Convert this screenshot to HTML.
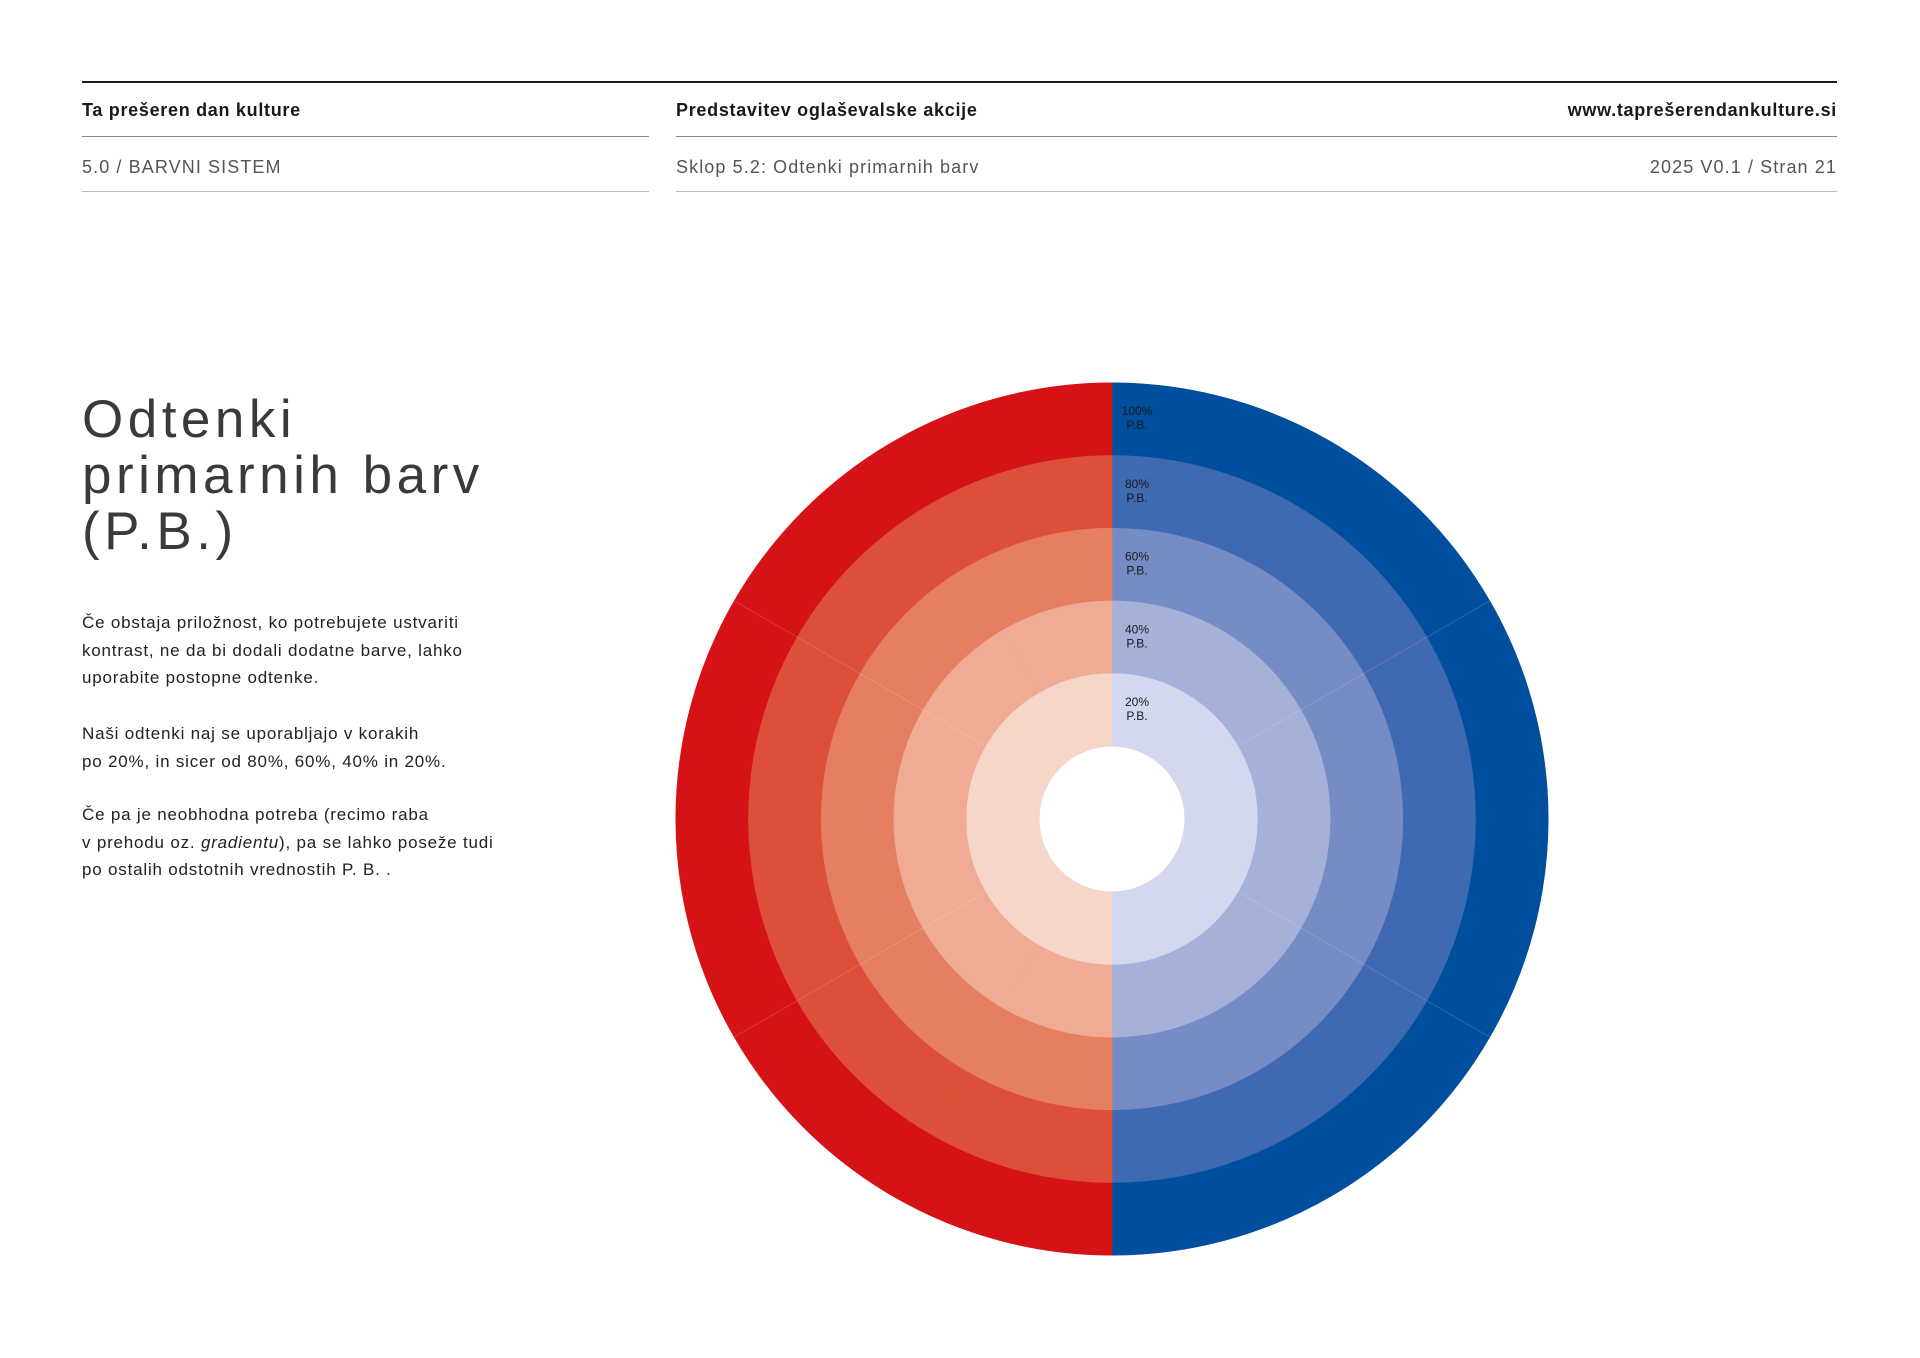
<!DOCTYPE html>
<html><head><meta charset="utf-8">
<style>
html,body{margin:0;padding:0;background:#fff;}
body{width:1920px;height:1358px;position:relative;overflow:hidden;font-family:"Liberation Sans",sans-serif;color:#1a1a1a;}
.abs{position:absolute;white-space:nowrap;}
.line{position:absolute;height:0;}
.h1{font-size:18px;font-weight:bold;color:#1a1a1a;letter-spacing:0.7px;}
.h2{font-size:18px;color:#555;letter-spacing:1.1px;}
.title{position:absolute;left:82px;top:392px;font-size:53px;line-height:56px;font-weight:300;color:#3a3a3a;letter-spacing:4.5px;white-space:nowrap;}
.para{position:absolute;left:82px;font-size:17px;line-height:27.5px;color:#222;white-space:nowrap;letter-spacing:0.8px;}
</style></head><body>
<div class="line" style="left:82px;top:81px;width:1755px;border-top:2.5px solid #1a1a1a;"></div>
<div class="abs h1" style="left:82px;top:100px;">Ta prešeren dan kulture</div>
<div class="abs h1" style="left:676px;top:100px;">Predstavitev oglaševalske akcije</div>
<div class="abs h1" style="right:83px;top:100px;">www.taprešerendankulture.si</div>
<div class="line" style="left:82px;top:136px;width:567px;border-top:1px solid #888;"></div>
<div class="line" style="left:676px;top:136px;width:1161px;border-top:1px solid #888;"></div>
<div class="abs h2" style="left:82px;top:157px;">5.0 / BARVNI SISTEM</div>
<div class="abs h2" style="left:676px;top:157px;">Sklop 5.2: Odtenki primarnih barv</div>
<div class="abs h2" style="right:83px;top:157px;">2025 V0.1 / Stran 21</div>
<div class="line" style="left:82px;top:191px;width:567px;border-top:1.5px solid #bbb;"></div>
<div class="line" style="left:676px;top:191px;width:1161px;border-top:1.5px solid #bbb;"></div>

<div class="title">Odtenki<br>primarnih barv<br>(P.B.)</div>
<div class="para" style="top:609px;">Če obstaja priložnost, ko potrebujete ustvariti<br>kontrast, ne da bi dodali dodatne barve, lahko<br>uporabite postopne odtenke.</div>
<div class="para" style="top:720px;">Naši odtenki naj se uporabljajo v korakih<br>po 20%, in sicer od 80%, 60%, 40% in 20%.</div>
<div class="para" style="top:801px;">Če pa je neobhodna potreba (recimo raba<br>v prehodu oz. <i>gradientu</i>), pa se lahko poseže tudi<br>po ostalih odstotnih vrednostih P. B. .</div>

<svg id="chart" width="1920" height="1358" style="position:absolute;left:0;top:0;" xmlns="http://www.w3.org/2000/svg"></svg>
<script>
const levels = [100, 80, 60, 40, 20];
const redShades = ["#d51317", "#de4f39", "#e67f62", "#efab94", "#f7d6ca"];
const blueShades = ["#004f9e", "#3f69b1", "#758cc5", "#a6b1da", "#d3d8ee"];
const labels = ["100%", "80%", "60%", "40%", "20%"];
const segmentCount = 12;
const dividerSegments = [2, 4, 8, 10];

const cx = 1112, cy = 819, ringW = 72.7;
const NS = "http://www.w3.org/2000/svg";
const svg = document.getElementById('chart');
function radius(level){ return ringW * (1 + level / 20); }
function pt(r, a){ return [cx + r * Math.sin(a), cy - r * Math.cos(a)]; }
function sector(r0, r1, a0, a1){
  const p1 = pt(r1, a0), p2 = pt(r1, a1), p3 = pt(r0, a1), p4 = pt(r0, a0);
  return `M${p1[0]},${p1[1]} A${r1},${r1} 0 0 1 ${p2[0]},${p2[1]} L${p3[0]},${p3[1]} A${r0},${r0} 0 0 0 ${p4[0]},${p4[1]} Z`;
}
const step = 2 * Math.PI / segmentCount;
for (let s = 0; s < segmentCount; s++) {
  const a0 = s * step, a1 = (s + 1) * step;
  const isBlue = s < segmentCount / 2;
  levels.forEach((lv, i) => {
    const p = document.createElementNS(NS, 'path');
    p.setAttribute('d', sector(radius(lv) - ringW, radius(lv), a0, a1));
    p.setAttribute('fill', isBlue ? blueShades[i] : redShades[i]);
    p.setAttribute('stroke', isBlue ? blueShades[i] : redShades[i]);
    p.setAttribute('stroke-width', '0.6');
    
    
    svg.appendChild(p);
  });
}
dividerSegments.forEach(s => {
  const a = s * step;
  const p0 = pt(radius(levels[levels.length-1]) - ringW, a), p1 = pt(radius(levels[0]), a);
  const l = document.createElementNS(NS, 'line');
  l.setAttribute('x1', p0[0]); l.setAttribute('y1', p0[1]);
  l.setAttribute('x2', p1[0]); l.setAttribute('y2', p1[1]);
  l.setAttribute('stroke', 'rgba(255,255,255,0.15)');
  l.setAttribute('stroke-width', '1');
  
  
  svg.appendChild(l);
});
levels.forEach((lv, i) => {
  const yMid = cy - radius(lv) + ringW / 2;
  const t = document.createElementNS(NS, 'text');
  t.setAttribute('x', cx + 25);
  t.setAttribute('y', yMid - 4);
  t.setAttribute('text-anchor', 'middle');
  t.setAttribute('font-family', 'Liberation Sans, sans-serif');
  t.setAttribute('font-size', '12');
  t.setAttribute('fill', '#1a1a1a');
  
  
  const s1 = document.createElementNS(NS, 'tspan');
  s1.setAttribute('x', cx + 25); s1.textContent = labels[i];
  const s2 = document.createElementNS(NS, 'tspan');
  s2.setAttribute('x', cx + 25); s2.setAttribute('dy', '14'); s2.textContent = 'P.B.';
  t.appendChild(s1); t.appendChild(s2);
  svg.appendChild(t);
});
</script>
</body></html>
